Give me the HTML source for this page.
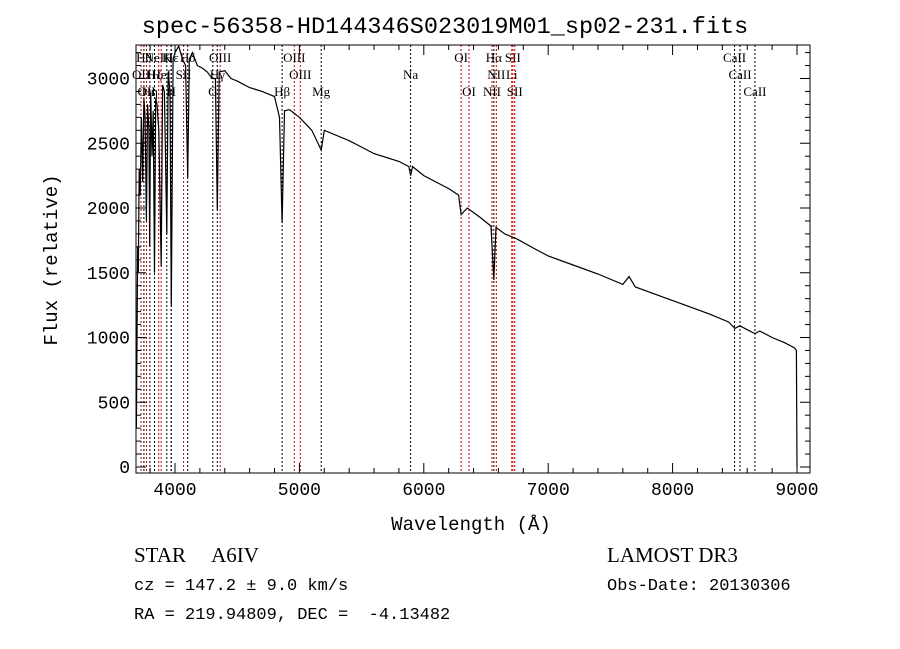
<!DOCTYPE html>
<html><head><meta charset="utf-8"><style>
body{margin:0;background:#fff;}
svg{display:block;font-family:"Liberation Mono",monospace;}
text{white-space:pre;}
</style></head><body>
<svg id="c" width="900" height="649">
<text x="445" y="33" font-size="23.5" text-anchor="middle">spec-56358-HD144346S023019M01_sp02-231.fits</text>
<text x="471" y="530" font-size="19" text-anchor="middle">Wavelength (Å)</text>
<text transform="translate(57,260) rotate(-90)" font-size="19" text-anchor="middle">Flux (relative)</text>
<text x="134" y="562" font-size="21" font-family="Liberation Serif,serif">STAR     A6IV</text>
<text x="607" y="562" font-size="21" font-family="Liberation Serif,serif">LAMOST DR3</text>
<text x="134" y="590" font-size="17">cz = 147.2 ± 9.0 km/s</text>
<text x="607" y="590" font-size="17">Obs-Date: 20130306</text>
<text x="134" y="619" font-size="17">RA = 219.94809, DEC =  -4.13482</text>
<g id="plot"></g>
</svg>
<script>
const wl=[3690,3696,3700,3705,3712,3720,3730,3740,3750,3760,3770,3780,3790,3797,3805,3815,3825,3835,3845,3855,3870,3889,3900,3915,3934,3945,3960,3970,3985,4000,4030,4060,4085,4102,4115,4140,4180,4220,4260,4300,4325,4340,4355,4400,4450,4500,4600,4700,4800,4840,4861,4880,4920,5000,5100,5175,5200,5300,5400,5500,5600,5700,5800,5880,5894,5910,6000,6100,6200,6280,6300,6350,6450,6540,6563,6580,6650,6750,6900,7000,7200,7400,7600,7650,7700,7900,8100,8300,8450,8500,8540,8600,8662,8700,8800,8900,8980,8995,9000];
const flux=[300,1200,1700,1500,2300,2100,2700,2200,2850,2700,1900,2800,2600,1700,2900,2400,2750,1500,2850,2800,2600,1550,2950,2900,1800,3050,2900,1250,3150,3200,3250,3150,3100,2230,3150,3200,3100,3080,3050,3000,3000,1985,3050,3060,3000,2980,2930,2900,2860,2700,1884,2750,2760,2700,2600,2448,2600,2560,2520,2470,2420,2390,2360,2320,2250,2320,2250,2200,2150,2100,1950,2000,1930,1860,1444,1850,1800,1760,1680,1630,1560,1490,1410,1470,1390,1320,1250,1180,1120,1070,1090,1060,1030,1050,1000,960,920,900,0];
const lineWl=[3727,3750,3771,3798,3835,3869,3889,3934,3969,3970,4069,4102,4304,4340,4363,4861,4959,5007,5175,5894,6300,6363,6548,6563,6583,6707,6716,6731,8498,8542,8662];
const lineLab=["OII","Hθ","OII","Hη","Hζ","NeIII","HeI","K","H","Hε","SII","Hδ","G","Hγ","OIII","Hβ","OIII","OIII","Mg","Na","OI","OI","NII","Hα","NII","Li","SII","SII","CaII","CaII","CaII"];
const lineRed=[1,0,1,0,0,1,1,0,0,0,1,0,0,0,1,0,1,1,0,0,1,1,1,0,1,1,1,1,0,0,0];
const lineRow=[1,0,2,2,1,0,1,0,2,0,1,0,2,1,0,2,0,1,2,1,0,2,2,0,1,1,0,2,0,1,2];
const xTicks=[4000,5000,6000,7000,8000,9000];
const yTicks=[0,500,1000,1500,2000,2500,3000];
const L=136,R=810,T=45,B=473;
const x=v=>175+(v-4000)*0.1244;
const y=v=>467-v*0.1295;
const NS="http://www.w3.org/2000/svg";
const g=document.getElementById('plot');
function mk(t,a){const e=document.createElementNS(NS,t);for(const k in a)e.setAttribute(k,a[k]);g.appendChild(e);return e;}
lineWl.forEach((w,i)=>{
 const l=mk('line',{x1:x(w),x2:x(w),y1:T,y2:B,stroke:lineRed[i]?'#c00':'#000','stroke-width':1,'stroke-dasharray':'2,2'});
 
 
 const t=mk('text',{x:x(w),y:[62,79,96][lineRow[i]],'font-size':13,'font-family':'Liberation Serif,serif','text-anchor':'middle'});
 t.textContent=lineLab[i];
 
 
});
const p=mk('path',{d:wl.map((w,i)=>(i?'L':'M')+x(w).toFixed(1)+','+y(flux[i]).toFixed(1)).join(''),fill:'none',stroke:'#000','stroke-width':1.2});


const f=mk('rect',{x:L,y:T,width:R-L,height:B-T,fill:'none',stroke:'#000','stroke-width':1});


for(let v=3800;v<=9100;v+=200){const big=v%1000===0;
 mk('line',{x1:x(v),x2:x(v),y1:B,y2:B-(big?10:5),stroke:'#000'});
 mk('line',{x1:x(v),x2:x(v),y1:T,y2:T+(big?10:5),stroke:'#000'});}
for(let v=0;v<=3200;v+=100){const big=v%500===0;
 mk('line',{x1:L,x2:L+(big?10:5),y1:y(v),y2:y(v),stroke:'#000'});
 mk('line',{x1:R,x2:R-(big?10:5),y1:y(v),y2:y(v),stroke:'#000'});}
xTicks.forEach(v=>{const t=mk('text',{x:x(v),y:B+22,'font-size':18,'text-anchor':'middle'});t.textContent=v;
 
 });
yTicks.forEach(v=>{const t=mk('text',{x:L-6,y:y(v)+6,'font-size':18,'text-anchor':'end'});t.textContent=v;
 
 });
</script>
</body></html>
